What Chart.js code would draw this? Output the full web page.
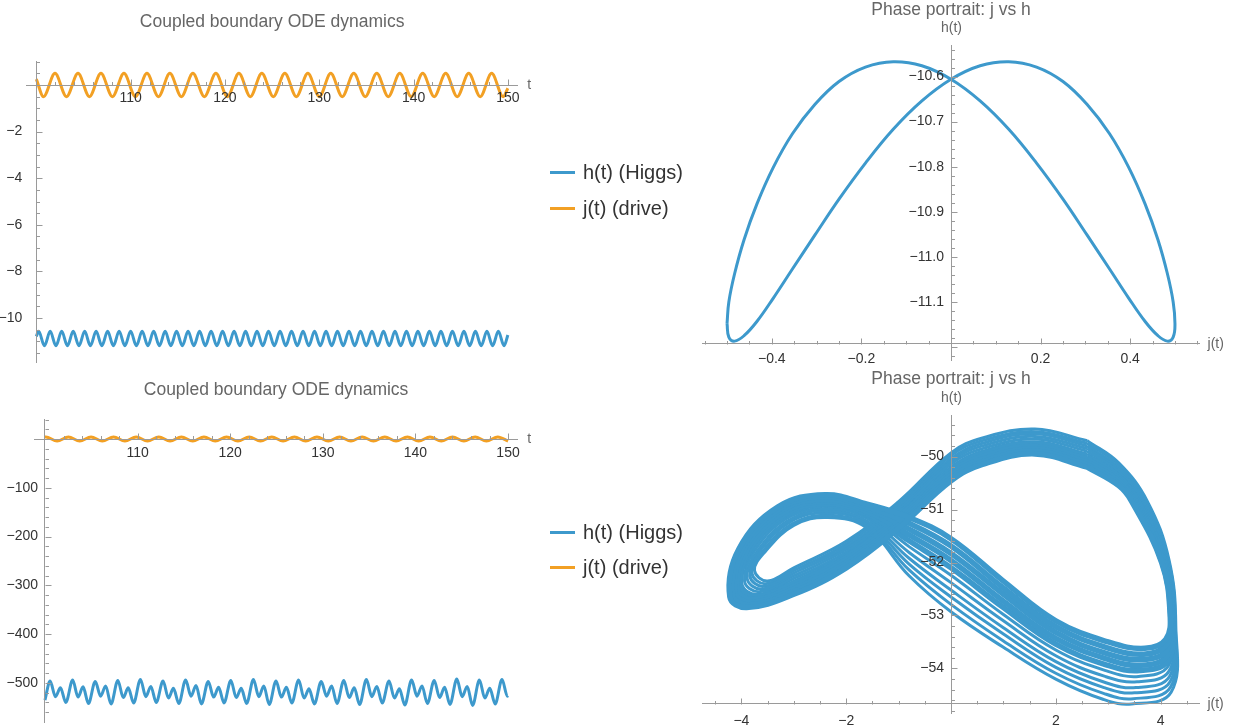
<!DOCTYPE html>
<html>
<head>
<meta charset="utf-8">
<script src="https://cdn.jsdelivr.net/npm/chart.js"></script>
<style>
  body { margin: 0; background: #fff; width: 1244px; height: 727px; overflow: hidden; position: relative;
         font-family: "Liberation Sans", Arial, sans-serif; }
  canvas { position: absolute; }
  .item { position: absolute; left: 550px; height: 24px; display: flex; align-items: center;
          font-size: 20px; color: #333; white-space: nowrap; }
  .item i { display: inline-block; width: 25px; height: 3px; margin-right: 8px; }
</style>
</head>
<body>
<canvas id="tl" width="545" height="375" style="left:0;top:0"></canvas>
<canvas id="bl" width="545" height="380" style="left:0;top:365px"></canvas>
<canvas id="tr" width="580" height="380" style="left:660px;top:0"></canvas>
<canvas id="br" width="580" height="380" style="left:660px;top:365px"></canvas>

<div class="item" style="top:160px"><i style="background:#3d99cc"></i>h(t) (Higgs)</div>
<div class="item" style="top:196px"><i style="background:#f2a024"></i>j(t) (drive)</div>
<div class="item" style="top:520px"><i style="background:#3d99cc"></i>h(t) (Higgs)</div>
<div class="item" style="top:555px"><i style="background:#f2a024"></i>j(t) (drive)</div>

<script>
// ---- top row: time series (small drive) ----
const tlJT = [100, 100.76, 101.98, 103.20, 104.42, 105.63, 106.85, 108.07, 109.29, 110.51, 111.73, 112.95,
  114.16, 115.38, 116.60, 117.82, 119.04, 120.26, 121.48, 122.69, 123.91, 125.13, 126.35, 127.57, 128.79,
  130.01, 131.22, 132.44, 133.66, 134.88, 136.10, 137.32, 138.54, 139.75, 140.97, 142.19, 143.41, 144.63,
  145.85, 147.07, 148.28, 149.50, 150];
const tlJ = [0.25, -0.5, 0.5, -0.5, 0.5, -0.5, 0.5, -0.5, 0.5, -0.5, 0.5, -0.5, 0.5, -0.5, 0.5, -0.5, 0.5,
  -0.5, 0.5, -0.5, 0.5, -0.5, 0.5, -0.5, 0.5, -0.5, 0.5, -0.5, 0.5, -0.5, 0.5, -0.5, 0.5, -0.5, 0.5, -0.5,
  0.5, -0.5, 0.5, -0.5, 0.5, -0.5, -0.14];

const tlHT = [100, 100.25, 100.86, 101.47, 102.08, 102.69, 103.30, 103.91, 104.52, 105.13, 105.73, 106.34,
  106.95, 107.56, 108.17, 108.78, 109.39, 110.00, 110.61, 111.22, 111.83, 112.44, 113.05, 113.66, 114.26,
  114.87, 115.48, 116.09, 116.70, 117.31, 117.92, 118.53, 119.14, 119.75, 120.36, 120.97, 121.58, 122.19,
  122.79, 123.40, 124.01, 124.62, 125.23, 125.84, 126.45, 127.06, 127.67, 128.28, 128.89, 129.50, 130.11,
  130.72, 131.32, 131.93, 132.54, 133.15, 133.76, 134.37, 134.98, 135.59, 136.20, 136.81, 137.42, 138.03,
  138.64, 139.25, 139.85, 140.46, 141.07, 141.68, 142.29, 142.90, 143.51, 144.12, 144.73, 145.34, 145.95,
  146.56, 147.17, 147.78, 148.38, 148.99, 149.60, 150];
const tlH = [-10.79, -10.57,
  -11.19, -10.57, -11.19, -10.57, -11.19, -10.57, -11.19, -10.57, -11.19, -10.57, -11.19, -10.57, -11.19, -10.57,
  -11.19, -10.57, -11.19, -10.57, -11.19, -10.57, -11.19, -10.57, -11.19, -10.57, -11.19, -10.57, -11.19, -10.57,
  -11.19, -10.57, -11.19, -10.57, -11.19, -10.57, -11.19, -10.57, -11.19, -10.57, -11.19, -10.57, -11.19, -10.57,
  -11.19, -10.57, -11.19, -10.57, -11.19, -10.57, -11.19, -10.57, -11.19, -10.57, -11.19, -10.57, -11.19, -10.57,
  -11.19, -10.57, -11.19, -10.57, -11.19, -10.57, -11.19, -10.57, -11.19, -10.57, -11.19, -10.57, -11.19, -10.57,
  -11.19, -10.57, -11.19, -10.57, -11.19, -10.57, -11.19, -10.57, -11.19, -10.57,
  -11.19, -10.73];

// phase portrait, top row (j, h) around one closed orbit
const trJ = [-0.5, -0.496, -0.483, -0.462, -0.433, -0.397, -0.354, -0.304, -0.25, -0.191, -0.129, -0.065, 0,
  0.065, 0.129, 0.191, 0.25, 0.304, 0.354, 0.397, 0.433, 0.462, 0.483, 0.496, 0.5, 0.496, 0.483, 0.462, 0.433,
  0.397, 0.354, 0.304, 0.25, 0.191, 0.129, 0.065, 0, -0.065, -0.129, -0.191, -0.25, -0.304, -0.354, -0.397,
  -0.433, -0.462, -0.483, -0.496, -0.5];
const trH = [-11.148, -11.178, -11.187, -11.175, -11.143, -11.092, -11.027, -10.952, -10.872, -10.792, -10.717,
  -10.654, -10.606, -10.576, -10.567, -10.579, -10.611, -10.662, -10.727, -10.802, -10.882, -10.962, -11.037,
  -11.1, -11.148, -11.178, -11.187, -11.175, -11.143, -11.092, -11.027, -10.952, -10.872, -10.792, -10.717,
  -10.654, -10.606, -10.576, -10.567, -10.579, -10.611, -10.662, -10.727, -10.802, -10.882, -10.962, -11.037,
  -11.1, -11.148];

// ---- bottom row: time series (strong drive) ----
const blHT = [100, 100.55, 101.13, 101.67, 102.25, 102.99, 103.57, 104.11, 104.69, 105.43, 106.01, 106.55,
  107.13, 107.87, 108.45, 108.99, 109.57, 110.31, 110.89, 111.43, 112.01, 112.75, 113.33, 113.87, 114.45,
  115.19, 115.77, 116.31, 116.89, 117.63, 118.21, 118.75, 119.33, 120.07, 120.65, 121.19, 121.77, 122.51,
  123.09, 123.63, 124.21, 124.95, 125.53, 126.07, 126.65, 127.39, 127.97, 128.51, 129.09, 129.83, 130.41,
  130.95, 131.53, 132.27, 132.85, 133.39, 133.97, 134.71, 135.29, 135.83, 136.41, 137.15, 137.73, 138.27,
  138.85, 139.59, 140.17, 140.71, 141.29, 142.03, 142.61, 143.15, 143.73, 144.47, 145.05, 145.59, 146.17,
  146.91, 147.49, 148.03, 148.61, 149.35, 149.93, 150];
const blH = [-535, -496, -528, -510, -540, -494, -529, -508, -542, -497, -527, -506, -543, -495, -530, -510,
  -541, -493, -528, -507, -540, -496, -531, -511, -542, -494, -527, -505, -543, -497, -529, -509, -541, -495,
  -530, -511, -542, -493, -528, -506, -544, -496, -529, -509, -541, -494, -531, -512, -543, -497, -527, -506,
  -542, -495, -530, -510, -544, -493, -528, -507, -541, -496, -531, -512, -545, -494, -527, -506, -542, -495,
  -530, -509, -544, -492, -528, -507, -546, -494, -531, -511, -543, -493, -527, -526];

const bjT = [100, 100.09, 101.31, 102.53, 103.75, 104.97, 106.19, 107.41, 108.63, 109.85, 111.07, 112.29,
  113.51, 114.73, 115.95, 117.17, 118.39, 119.61, 120.83, 122.05, 123.27, 124.49, 125.71, 126.93, 128.15,
  129.37, 130.59, 131.81, 133.03, 134.25, 135.47, 136.69, 137.91, 139.13, 140.35, 141.57, 142.79, 144.01,
  145.23, 146.45, 147.67, 148.89, 150];
const bjJ = [4.2, 4.25, -4.25, 4.25, -4.25, 4.25, -4.25, 4.25, -4.25, 4.25, -4.25, 4.25, -4.25, 4.25, -4.25,
  4.25, -4.25, 4.25, -4.25, 4.25, -4.25, 4.25, -4.25, 4.25, -4.25, 4.25, -4.25, 4.25, -4.25, 4.25, -4.25,
  4.25, -4.25, 4.25, -4.25, 4.25, -4.25, 4.25, -4.25, 4.25, -4.25, 4.25, -4.2];

// phase portrait, bottom row: strands of the quasi-periodic band, [j, h]
// closely packed strands (drawn wide) and the looser strands (drawn thin)
const brDense = [
  [[2.6,-50.2],[1.6,-49.95],[0.6,-50.15],[0,-50.46],[-1,-51.35],[-2,-52.1],[-3,-52.6],[-3.9,-52.85],[-4.22,-52.65],[-4.05,-51.75],[-3.3,-50.95],[-2.4,-50.72],[-1.6,-50.9],[-0.8,-51.15],[0,-51.55],[1,-52.35],[2,-53.1],[3,-53.5],[3.7,-53.62],[4.1,-53.45],[4.18,-52.95],[4.02,-52.0],[3.45,-50.85],[3.2,-50.55],[2.6,-50.2]],
  [[2.6,-50.15],[1.6,-49.9],[0.6,-50.1],[0,-50.41],[-1,-51.3],[-2,-52.05],[-3,-52.55],[-3.86,-52.8],[-4.17,-52.6],[-4.0,-51.76],[-3.27,-50.99],[-2.4,-50.76],[-1.6,-50.95],[-0.8,-51.26],[0,-51.69],[1,-52.48],[2,-53.21],[2.99,-53.61],[3.68,-53.73],[4.11,-53.55],[4.19,-52.98],[4.03,-52.0],[3.48,-50.85],[3.2,-50.51],[2.6,-50.15]],
  [[2.6,-50.1],[1.6,-49.86],[0.6,-50.05],[0,-50.35],[-1,-51.25],[-2,-52.0],[-3,-52.5],[-3.82,-52.75],[-4.13,-52.55],[-3.95,-51.76],[-3.24,-51.02],[-2.39,-50.81],[-1.6,-50.99],[-0.8,-51.37],[0,-51.83],[1,-52.6],[2,-53.32],[2.98,-53.72],[3.65,-53.83],[4.12,-53.65],[4.2,-53.0],[4.05,-51.99],[3.51,-50.85],[3.2,-50.46],[2.6,-50.1]],
  [[2.6,-50.05],[1.6,-49.81],[0.6,-50.0],[0,-50.3],[-1,-51.2],[-2,-51.95],[-3,-52.45],[-3.78,-52.7],[-4.08,-52.5],[-3.9,-51.77],[-3.21,-51.06],[-2.39,-50.85],[-1.6,-51.04],[-0.8,-51.48],[0,-51.96],[1,-52.73],[2,-53.43],[2.97,-53.82],[3.63,-53.94],[4.13,-53.75],[4.21,-53.03],[4.06,-51.99],[3.54,-50.85],[3.2,-50.42],[2.6,-50.05]],
  [[2.6,-50.0],[1.6,-49.76],[0.6,-49.95],[0,-50.25],[-1,-51.15],[-2,-51.9],[-3,-52.4],[-3.74,-52.65],[-4.03,-52.45],[-3.85,-51.77],[-3.18,-51.09],[-2.38,-50.89],[-1.6,-51.08],[-0.8,-51.59],[0,-52.1],[1,-52.85],[2,-53.54],[2.96,-53.93],[3.6,-54.04],[4.14,-53.85],[4.22,-53.05],[4.08,-51.98],[3.57,-50.85],[3.2,-50.38],[2.6,-50.0]]
];
const brSparse = [
  [[2.6,-49.95],[1.6,-49.72],[0.6,-49.9],[0,-50.2],[-1,-51.1],[-2,-51.85],[-3,-52.35],[-3.7,-52.6],[-3.99,-52.4],[-3.8,-51.78],[-3.15,-51.13],[-2.38,-50.94],[-1.6,-51.13],[-0.8,-51.7],[0,-52.24],[1,-52.98],[2,-53.65],[2.95,-54.04],[3.58,-54.15],[4.15,-53.95],[4.24,-53.08],[4.09,-51.98],[3.6,-50.85],[3.2,-50.34],[2.6,-49.95]],
  [[2.6,-49.9],[1.6,-49.67],[0.6,-49.85],[0,-50.14],[-1,-51.05],[-2,-51.8],[-3,-52.3],[-3.66,-52.55],[-3.94,-52.35],[-3.75,-51.78],[-3.12,-51.16],[-2.37,-50.98],[-1.6,-51.17],[-0.8,-51.81],[0,-52.38],[1,-53.1],[2,-53.76],[2.94,-54.15],[3.55,-54.25],[4.16,-54.05],[4.25,-53.1],[4.1,-51.97],[3.63,-50.85],[3.2,-50.29],[2.6,-49.9]],
  [[2.6,-49.85],[1.6,-49.62],[0.6,-49.8],[0,-50.09],[-1,-51.0],[-2,-51.75],[-3,-52.25],[-3.62,-52.5],[-3.89,-52.3],[-3.7,-51.79],[-3.09,-51.2],[-2.37,-51.02],[-1.6,-51.22],[-0.8,-51.92],[0,-52.52],[1,-53.23],[2,-53.87],[2.93,-54.26],[3.53,-54.36],[4.17,-54.15],[4.26,-53.13],[4.12,-51.97],[3.66,-50.85],[3.2,-50.25],[2.6,-49.85]],
  [[2.6,-49.8],[1.6,-49.57],[0.6,-49.75],[0,-50.04],[-1,-50.95],[-2,-51.7],[-3,-52.2],[-3.58,-52.45],[-3.84,-52.25],[-3.65,-51.79],[-3.06,-51.23],[-2.36,-51.06],[-1.6,-51.26],[-0.8,-52.03],[0,-52.65],[1,-53.35],[2,-53.98],[2.92,-54.36],[3.5,-54.46],[4.18,-54.25],[4.27,-53.15],[4.13,-51.96],[3.69,-50.85],[3.2,-50.21],[2.6,-49.8]],
  [[2.6,-49.75],[1.6,-49.53],[0.6,-49.7],[0,-49.98],[-1,-50.9],[-2,-51.65],[-3,-52.15],[-3.54,-52.4],[-3.8,-52.2],[-3.6,-51.8],[-3.03,-51.27],[-2.36,-51.11],[-1.6,-51.31],[-0.8,-52.14],[0,-52.79],[1,-53.48],[2,-54.09],[2.91,-54.47],[3.48,-54.57],[4.19,-54.35],[4.28,-53.18],[4.15,-51.96],[3.72,-50.85],[3.2,-50.16],[2.6,-49.75]],
  [[2.6,-49.7],[1.6,-49.48],[0.6,-49.65],[0,-49.93],[-1,-50.85],[-2,-51.6],[-3,-52.1],[-3.5,-52.35],[-3.75,-52.15],[-3.55,-51.8],[-3.0,-51.3],[-2.35,-51.15],[-1.6,-51.35],[-0.8,-52.25],[0,-52.93],[1,-53.6],[2,-54.2],[2.9,-54.58],[3.45,-54.67],[4.2,-54.45],[4.29,-53.2],[4.16,-51.95],[3.75,-50.85],[3.2,-50.12],[2.6,-49.7]]
];

const BLUE = '#3d99cc';
const ORANGE = '#f2a024';
const FONT = '"Liberation Sans", Arial, sans-serif';

Chart.defaults.font.family = FONT;
Chart.defaults.animation = false;

const toPoints = (xs, ys) => xs.map((x, i) => ({x: x, y: ys[i]}));
const fmt = (v, d) => (v < 0 ? '\u2212' : '') + Math.abs(v).toFixed(d);

// Mathematica-like tick marks (major + minor, pointing into the plot) and axis names
const mmaTicks = {
  id: 'mmaTicks',
  afterDatasetsDraw(chart, args, o) {
    const {ctx, chartArea, scales: {x, y}} = chart;
    const rowY = Math.round(y.getPixelForValue(o.xAxisAt)) + 0.5;
    const colX = Math.round(x.getPixelForValue(o.yAxisAt)) + 0.5;
    const isMajor = (v, m) => Math.abs(v / m - Math.round(v / m)) < 1e-6;
    ctx.save();
    ctx.strokeStyle = '#9a9a9a';
    ctx.lineWidth = 1;
    ctx.beginPath();
    let [a, b, step, major] = o.xTicks;
    for (let i = 0; a + i * step <= b + 1e-9; i++) {
      const v = a + i * step;
      if (Math.abs(v - o.yAxisAt) < 1e-9) continue;
      const px = Math.round(x.getPixelForValue(v)) + 0.5;
      ctx.moveTo(px, rowY);
      ctx.lineTo(px, rowY - (isMajor(v, major) ? 6 : 3.5));
    }
    [a, b, step, major] = o.yTicks;
    for (let i = 0; a + i * step <= b + 1e-9; i++) {
      const v = a + i * step;
      if (Math.abs(v - o.xAxisAt) < 1e-9) continue;
      const py = Math.round(y.getPixelForValue(v)) + 0.5;
      ctx.moveTo(colX, py);
      ctx.lineTo(colX + (isMajor(v, major) ? 6 : 3.5), py);
    }
    ctx.stroke();
    ctx.fillStyle = '#666';
    ctx.font = '14px ' + FONT;
    ctx.textBaseline = 'middle';
    if (o.xName) {
      ctx.textAlign = 'left';
      ctx.fillText(o.xName, chartArea.right + o.xNameGap, rowY);
    }
    if (o.yName) {
      ctx.textAlign = 'center';
      ctx.fillText(o.yName, colX, chartArea.top - 17);
    }
    ctx.restore();
  }
};

function axis(min, max, at, majors, digits, gap, pad) {
  return {
    type: 'linear', min: min, max: max, position: at,
    grid: {display: false},
    border: {display: true, color: '#9a9a9a', width: 1, z: 1},
    afterBuildTicks: s => { s.ticks = majors.map(v => ({value: v})); },
    ticks: {font: {size: 14}, color: '#333', padding: pad, maxRotation: 0, autoSkip: false, z: 1,
            callback: v => fmt(v, digits) + gap}
  };
}

function makeChart(id, datasets, title, titlePad, layoutPad, scales, ticks) {
  return new Chart(document.getElementById(id), {
    type: 'line',
    data: {datasets: datasets},
    options: {
      responsive: false, devicePixelRatio: 1, events: [],
      layout: {padding: layoutPad},
      scales: scales,
      plugins: {
        legend: {display: false}, tooltip: {enabled: false},
        title: {display: true, text: title, color: '#666', font: {size: 17.5, weight: 'normal'}, padding: titlePad},
        mmaTicks: ticks
      }
    },
    plugins: [mmaTicks]
  });
}

const series = (pts, color, w) => ({data: pts, borderColor: color, borderWidth: w, pointRadius: 0,
  fill: false, cubicInterpolationMode: 'monotone'});
const orbit = (pts, w) => ({data: pts.map(p => ({x: p[0], y: p[1]})), borderColor: BLUE, borderWidth: w,
  pointRadius: 0, fill: false, tension: 0.4, borderJoinStyle: 'round', showLine: true});

// top left
makeChart('tl',
  [series(toPoints(tlHT, tlH), BLUE, 3), series(toPoints(tlJT, tlJ), ORANGE, 3)],
  'Coupled boundary ODE dynamics', {top: 11.5, bottom: 29.2},
  {left: 26.9, right: 27.7, top: 0, bottom: 12.7},
  {x: axis(99, 151, {y: 0}, [110, 120, 130, 140, 150], 0, '', -3.2),
   y: axis(-11.9, 1, {x: 100}, [-10, -8, -6, -4, -2], 0, '\u2003', 0)},
  {xAxisAt: 0, yAxisAt: 100, xTicks: [100, 150, 2, 10], yTicks: [-11.5, 1, 0.5, 2], xName: 't', xNameGap: 10});

// bottom left
makeChart('bl',
  [series(toPoints(blHT, blH), BLUE, 3), series(toPoints(bjT, bjJ), ORANGE, 3)],
  'Coupled boundary ODE dynamics', {top: 14.5, bottom: 19},
  {left: 34.8, right: 27.7, top: 0, bottom: 23},
  {x: axis(98.9, 151, {y: 0}, [110, 120, 130, 140, 150], 0, '', -2.3),
   y: axis(-580, 40, {x: 100}, [-500, -400, -300, -200, -100], 0, '\u2002', 0)},
  {xAxisAt: 0, yAxisAt: 100, xTicks: [100, 150, 2, 10], yTicks: [-560, 40, 20, 100], xName: 't', xNameGap: 10});

// top right
makeChart('tr',
  [orbit(trJ.map((j, i) => [j, trH[i]]), 3)],
  'Phase portrait: j vs h', {top: 0, bottom: 24},
  {left: 42.4, right: 40.4, top: 0, bottom: 19.5},
  {x: axis(-0.555, 0.555, {y: -11.193}, [-0.4, -0.2, 0.2, 0.4], 1, '', -1.3),
   y: axis(-11.23, -10.53, {x: 0}, [-11.1, -11.0, -10.9, -10.8, -10.7, -10.6], 1, '\u2002', 0)},
  {xAxisAt: -11.193, yAxisAt: 0, xTicks: [-0.55, 0.55, 0.05, 0.2], yTicks: [-11.22, -10.54, 0.02, 0.1],
   xName: 'j(t)', yName: 'h(t)', xNameGap: 8});

// bottom right
makeChart('br',
  brDense.map(p => orbit(p, 5.5)).concat(brSparse.map(p => orbit(p, 3))),
  'Phase portrait: j vs h', {top: 3.5, bottom: 25.7},
  {left: 42.6, right: 40.6, top: 0, bottom: 32},
  {x: axis(-4.74, 4.74, {y: -54.67}, [-4, -2, 2, 4], 0, '', 0.5),
   y: axis(-54.84, -49.22, {x: 0}, [-54, -53, -52, -51, -50], 0, '\u2002', 0)},
  {xAxisAt: -54.67, yAxisAt: 0, xTicks: [-4.5, 4.5, 0.5, 2], yTicks: [-54.8, -49.4, 0.2, 1],
   xName: 'j(t)', yName: 'h(t)', xNameGap: 8});
</script>
</body>
</html>
